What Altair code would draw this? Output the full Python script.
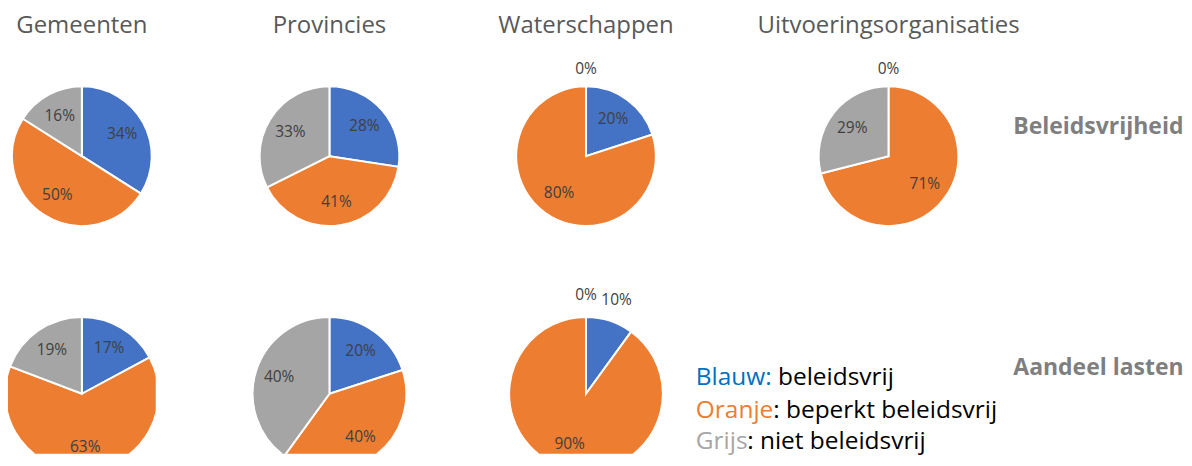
import altair as alt
import pandas as pd

FONT = "Open Sans"

organisaties = ["Gemeenten", "Provincies", "Waterschappen", "Uitvoeringsorganisaties"]
categorieen = ["beleidsvrij", "beperkt beleidsvrij", "niet beleidsvrij"]
pie_kleuren = ["#4472C4", "#ED7D31", "#A5A5A5"]

# Beleidsvrijheid (blauw, oranje, grijs) in %
bv_gemeenten = [34, 50, 16]
bv_provincies = [28, 41, 33]
bv_waterschappen = [20, 80, 0]
bv_uitvoering = [0, 71, 29]

# Aandeel lasten (blauw, oranje, grijs) in %
al_gemeenten = [17, 63, 19]
al_provincies = [20, 40, 40]
al_waterschappen = [10, 90, 0]

rij_labels = ["Beleidsvrijheid", "Aandeel lasten"]

legend_prefix = ["Blauw:", "Oranje", "Grijs"]
legend_rest = ["beleidsvrij", ": beperkt beleidsvrij", ": niet beleidsvrij"]
legend_kleuren = ["#0070C0", "#ED7D31", "#A6A6A6"]

W = [148, 348, 166, 140, 160, 214]
H_TITLE, H_ROW1, H_ROW2 = 36, 224, 186


def pie(values, w, h, radius, label_r, out_r, cy=None):
    df = pd.DataFrame({"cat": categorieen, "value": values, "o": [1, 2, 3]})
    enc = dict(
        theta=alt.Theta("value:Q", stack=True),
        order=alt.Order("o:Q"),
        detail="cat:N",
    )
    if cy is not None:
        enc["x"] = alt.value(w / 2)
        enc["y"] = alt.value(cy)
    base = alt.Chart(df).encode(**enc)
    arc = base.mark_arc(outerRadius=radius, stroke="white", strokeWidth=2,
                        clip=cy is not None).encode(
        color=alt.Color("cat:N", scale=alt.Scale(domain=categorieen, range=pie_kleuren), legend=None)
    )
    lab_in = base.transform_calculate(
        lab="datum.value >= 12 ? datum.value + '%' : ''"
    ).mark_text(radius=label_r, font=FONT, fontSize=15.5, color="#404040").encode(text="lab:N")
    lab_out = base.transform_calculate(
        lab="datum.value < 12 ? datum.value + '%' : ''"
    ).mark_text(radius=out_r, font=FONT, fontSize=15.5, color="#404040").encode(text="lab:N")
    return alt.layer(arc, lab_in, lab_out).properties(width=w, height=h)


def blank(w, h):
    return alt.Chart(pd.DataFrame({"t": [""]})).mark_text().encode(text="t:N").properties(width=w, height=h)


def titel(t, w):
    return alt.Chart(pd.DataFrame({"t": [t]})).mark_text(
        font=FONT, fontSize=24, color="#595959", baseline="middle"
    ).encode(text="t:N").properties(width=w, height=H_TITLE)


def rijlabel(t, w, h, yv):
    return alt.Chart(pd.DataFrame({"t": [t]})).mark_text(
        font=FONT, fontSize=23, fontWeight="bold", color="#7F7F7F", align="left", baseline="middle"
    ).encode(text="t:N", x=alt.value(45), y=alt.value(yv)).properties(width=w, height=h)


def legenda(w, h):
    fs = 24.5
    x0 = 27
    # widths of the coloured words in Open Sans (em units / 2048)
    pre_w = [6351 + 532, 6480, 4296]
    ys = [110, 143, 174]
    layers = []
    for i in range(3):
        df = pd.DataFrame({"pre": [legend_prefix[i]], "rest": [legend_rest[i]]})
        base = alt.Chart(df).encode(x=alt.value(x0), y=alt.value(ys[i]))
        kw = dict(font=FONT, fontSize=fs, align="left", baseline="middle")
        layers.append(base.mark_text(color=legend_kleuren[i], **kw).encode(text="pre:N"))
        layers.append(base.mark_text(color="black", dx=pre_w[i] * fs / 2048, **kw).encode(text="rest:N"))
    return alt.layer(*layers).properties(width=w, height=h)


hc = dict(spacing=0, bounds="flush")

titel_rij = alt.hconcat(
    titel(organisaties[0], W[0]), titel(organisaties[1], W[1]), titel(organisaties[2], W[2]),
    blank(W[3], H_TITLE), titel(organisaties[3], W[4]), blank(W[5], H_TITLE), **hc
)

rij1 = alt.hconcat(
    pie(bv_gemeenten, W[0], H_ROW1, 70, 46, 87),
    pie(bv_provincies, W[1], H_ROW1, 70, 46, 87),
    pie(bv_waterschappen, W[2], H_ROW1, 70, 46, 87),
    blank(W[3], H_ROW1),
    pie(bv_uitvoering, W[4], H_ROW1, 70, 46, 87),
    rijlabel(rij_labels[0], W[5], H_ROW1, 83),
    **hc
).resolve_scale(theta="independent", color="independent")

rij2 = alt.hconcat(
    pie(al_gemeenten, W[0], H_ROW2, 77, 53, 99, cy=126),
    pie(al_provincies, W[1], H_ROW2, 77, 53, 99, cy=126),
    pie(al_waterschappen, W[2], H_ROW2, 77, 53, 99, cy=126),
    legenda(W[3] + W[4], H_ROW2),
    rijlabel(rij_labels[1], W[5], H_ROW2, 100),
    **hc
).resolve_scale(theta="independent", color="independent")

chart = alt.vconcat(titel_rij, rij1, rij2, spacing=0).resolve_scale(
    theta="independent", color="independent"
).properties(padding=0).configure_view(stroke=None).configure_concat(spacing=0)

chart.save("out.html", embed_options={"renderer": "svg", "actions": False})
